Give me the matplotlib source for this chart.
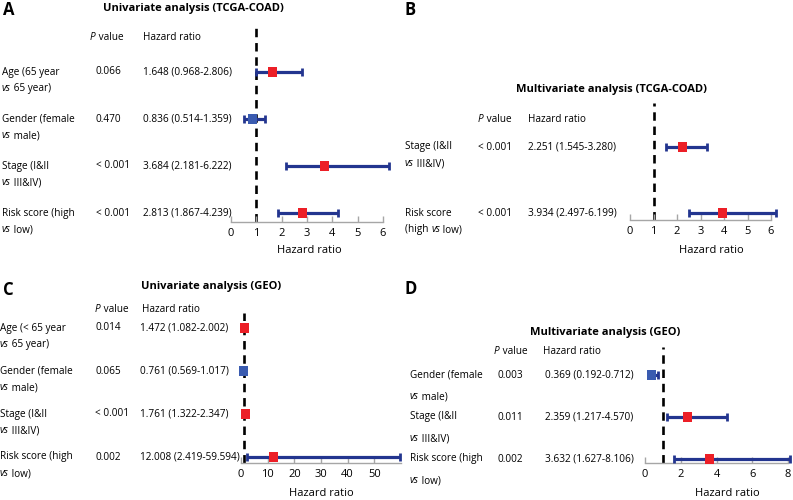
import matplotlib
matplotlib.use("Agg")
import matplotlib.pyplot as plt
import matplotlib.transforms as mtransforms
import numpy as np

plt.rcParams['font.family'] = ['Open Sans', 'DejaVu Sans']

W, H = 793, 500

# ---- data -------------------------------------------------------------
# A: univariate TCGA-COAD
a_labels = [("Age (65 year", "vs 65 year)"),
            ("Gender (female", "vs male)"),
            ("Stage (I&II", "vs III&IV)"),
            ("Risk score (high", "vs low)")]
a_p = ["0.066", "0.470", "< 0.001", "< 0.001"]
a_hr = [1.648, 0.836, 3.684, 2.813]
a_lo = [0.968, 0.514, 2.181, 1.867]
a_hi = [2.806, 1.359, 6.222, 4.239]

# B: multivariate TCGA-COAD
b_labels = [("Stage (I&II", "vs III&IV)"),
            ("Risk score", "(high vs low)")]
b_p = ["< 0.001", "< 0.001"]
b_hr = [2.251, 3.934]
b_lo = [1.545, 2.497]
b_hi = [3.280, 6.199]

# C: univariate GEO
c_labels = [("Age (< 65 year", "vs 65 year)"),
            ("Gender (female", "vs male)"),
            ("Stage (I&II", "vs III&IV)"),
            ("Risk score (high", "vs low)")]
c_p = ["0.014", "0.065", "< 0.001", "0.002"]
c_hr = [1.472, 0.761, 1.761, 12.008]
c_lo = [1.082, 0.569, 1.322, 2.419]
c_hi = [2.002, 1.017, 2.347, 59.594]

# D: multivariate GEO
d_labels = [("Gender (female", "vs male)"),
            ("Stage (I&II", "vs III&IV)"),
            ("Risk score (high", "vs low)")]
d_p = ["0.003", "0.011", "0.002"]
d_hr = [0.369, 2.359, 3.632]
d_lo = [0.192, 1.217, 1.627]
d_hi = [0.712, 4.570, 8.106]

RED = '#ec1f27'
BLUE = '#3a5bb0'
NAVY = '#23358f'
FS = 7.2

fig = plt.figure(figsize=(W / 100, H / 100), dpi=100)


def rich(ax, x, y, trans, parts, size=FS, **kw):
    # parts: list of (text, italic); drawn one after another on a line
    parts = [p for p in parts if p[0]]
    t = ax.text(x, y, parts[0][0], transform=trans, fontsize=size,
                style='italic' if parts[0][1] else 'normal',
                ha='left', va='center', **kw)
    for s, it in parts[1:]:
        t = ax.annotate(s, xy=(1, 0), xycoords=t, fontsize=size,
                        style='italic' if it else 'normal',
                        ha='left', va='bottom', annotation_clip=False)
    return t


def split_vs(s):
    chunks = s.split("vs")
    parts = []
    for i, c in enumerate(chunks):
        if i > 0:
            parts.append(("vs", True))
        parts.append((c, False))
    return parts


def panel(labels, pvals, hr, lo, hi, xmax, ticks, lay):
    x0, x1 = lay['x0'], lay['x1']
    axis_px, top_px = lay['axis'], lay['top']
    row0, step = lay['row0'], lay['step']
    ax = fig.add_axes([x0 / W, 1 - axis_px / H, (x1 - x0) / W,
                       (axis_px - top_px) / H])
    ax.set_xlim(0, xmax)
    ax.set_ylim((axis_px - row0) / step, (top_px - row0) / step)
    ax.patch.set_visible(False)
    for s in ['top', 'right', 'left']:
        ax.spines[s].set_visible(False)
    ax.spines['bottom'].set_color('#a6a6a6')
    ax.spines['bottom'].set_linewidth(1.0)
    ax.set_yticks([])
    ax.set_xticks(ticks)
    ax.tick_params(axis='x', direction='in', length=4, width=1,
                   color='#a6a6a6', labelsize=8, pad=4)

    ax.axvline(1, color='black', lw=1.9, linestyle=(0, (3.2, 2.2)), zorder=1)

    rows = np.arange(len(hr))
    hr = np.array(hr)
    err = [hr - np.array(lo), np.array(hi) - hr]
    ax.errorbar(hr, rows, xerr=err, fmt='none', ecolor=NAVY, elinewidth=2.3,
                capsize=3, capthick=2, zorder=3, clip_on=False)
    colors = [RED if v > 1 else BLUE for v in hr]
    ax.scatter(hr, rows, marker='s', s=42, c=colors, zorder=4, clip_on=False,
               linewidths=0)

    ax.set_xlabel("Hazard ratio", fontsize=8)
    ax.xaxis.set_label_coords(lay['xl'][0] / W, 1 - lay['xl'][1] / H,
                              transform=fig.transFigure)

    trans = mtransforms.blended_transform_factory(fig.transFigure, ax.transData)
    head_row = (lay['head'] - row0) / step
    rich(ax, lay['hp'] / W, head_row, trans, [("P", True), (" value", False)])
    ax.text(lay['hh'] / W, head_row, "Hazard ratio", transform=trans,
            fontsize=FS, ha='left', va='center')

    for i, (l1, l2) in enumerate(labels):
        t1 = ax.text(lay['lab'] / W, i, l1, transform=trans, fontsize=FS,
                     ha='left', va='center')
        parts = [p for p in split_vs(l2) if p[0]]
        t = ax.annotate(parts[0][0], xy=(0, 0), xycoords=t1,
                        xytext=(0, -lay['lsp']), textcoords='offset points',
                        fontsize=FS, style='italic' if parts[0][1] else 'normal',
                        ha='left', va='bottom', annotation_clip=False)
        for s, it in parts[1:]:
            t = ax.annotate(s, xy=(1, 0), xycoords=t, fontsize=FS,
                            style='italic' if it else 'normal',
                            ha='left', va='bottom', annotation_clip=False)
        ax.text(lay['p'] / W, i, pvals[i], transform=trans, fontsize=FS,
                ha='left', va='center')
        ax.text(lay['h'] / W, i, f"{hr[i]:.3f} ({lo[i]:.3f}-{hi[i]:.3f})",
                transform=trans, fontsize=FS, ha='left', va='center')

    fig.text(lay['title'][0] / W, 1 - lay['title'][1] / H, lay['title_s'],
             fontsize=8, fontweight='bold', ha='center', va='center')
    fig.text(lay['letter'][0] / W, 1 - lay['letter'][1] / H, lay['letter_s'],
             fontsize=12, fontweight='bold', ha='left', va='center')
    return ax


panel(a_labels, a_p, a_hr, a_lo, a_hi, 6, range(0, 7),
      dict(x0=231, x1=383, axis=222, top=23, row0=72, step=47,
           lab=2, p=96, h=143, hp=90, hh=143, head=37, lsp=12.2,
           xl=(309, 245), title=(193, 8),
           title_s="Univariate analysis (TCGA-COAD)",
           letter=(3, 10), letter_s="A"))

panel(b_labels, b_p, b_hr, b_lo, b_hi, 6, range(0, 7),
      dict(x0=630, x1=771, axis=220, top=103, row0=147, step=66,
           lab=405, p=478, h=528, hp=478, hh=528, head=120, lsp=12.2,
           xl=(711, 245), title=(612, 90),
           title_s="Multivariate analysis (TCGA-COAD)",
           letter=(405, 10), letter_s="B"))

panel(c_labels, c_p, c_hr, c_lo, c_hi, 60, range(0, 51, 10),
      dict(x0=241, x1=401, axis=463, top=313, row0=328, step=43,
           lab=0, p=95, h=140, hp=95, hh=142, head=309, lsp=12.2,
           xl=(321, 488), title=(211, 286),
           title_s="Univariate analysis (GEO)",
           letter=(3, 290), letter_s="C"))

panel(d_labels, d_p, d_hr, d_lo, d_hi, 8, range(0, 9, 2),
      dict(x0=645, x1=788, axis=463, top=347, row0=375, step=42,
           lab=410, p=498, h=545, hp=494, hh=543, head=351, lsp=15.8,
           xl=(727, 488), title=(605, 332),
           title_s="Multivariate analysis (GEO)",
           letter=(405, 289), letter_s="D"))

fig.savefig("out.png", dpi=100)
